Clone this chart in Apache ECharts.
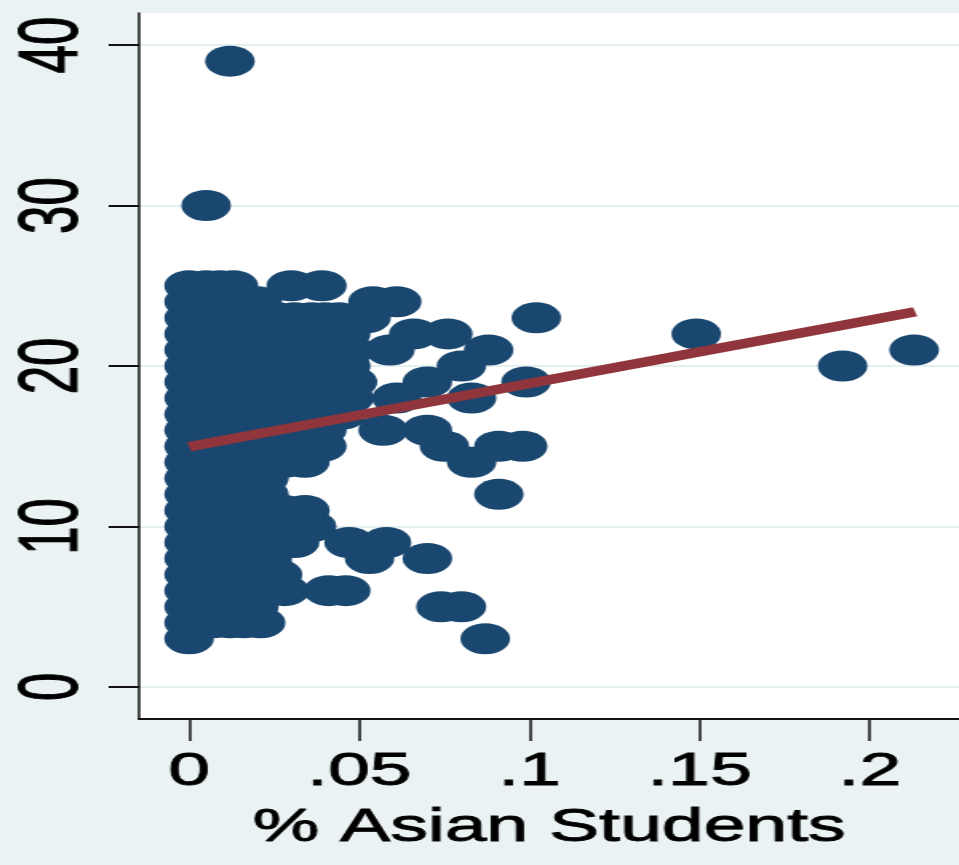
<!DOCTYPE html>
<html>
<head>
<meta charset="utf-8">
<script src="https://cdn.jsdelivr.net/npm/echarts@6/dist/echarts.min.js"></script>
<style>
  html, body { margin: 0; padding: 0; background: #eaf2f3; overflow: hidden; }
  #chart { width: 600px; height: 865px; transform: scaleX(1.59833); transform-origin: 0 0; }
</style>
</head>
<body>
<div id="chart"></div>
<script>
// Outcome levels (y) and the share of Asian students observed at each level (x)
const scoreLevels = [3, 4, 5, 6, 7, 8, 9, 10, 11, 12, 13, 14, 15, 16, 17, 18, 19, 20, 21, 22, 23, 24, 25, 30, 39];
const asianShareAtLevel = [
  [0, 0.087],
  [0, 0.003, 0.007, 0.012, 0.016, 0.021],
  [0, 0.002, 0.006, 0.011, 0.015, 0.019, 0.074, 0.080],
  [0, 0.003, 0.008, 0.013, 0.018, 0.023, 0.028, 0.041, 0.046],
  [0, 0.002, 0.006, 0.011, 0.016, 0.021, 0.026],
  [0, 0.004, 0.009, 0.014, 0.019, 0.023, 0.053, 0.070],
  [0, 0.003, 0.007, 0.012, 0.017, 0.022, 0.027, 0.031, 0.047, 0.058],
  [0, 0.002, 0.006, 0.011, 0.015, 0.020, 0.025, 0.031, 0.036],
  [0, 0.004, 0.009, 0.013, 0.018, 0.023, 0.028, 0.034],
  [0, 0.003, 0.007, 0.012, 0.016, 0.022, 0.091],
  [0, 0.002, 0.006, 0.010, 0.015, 0.019, 0.022],
  [0, 0.004, 0.008, 0.013, 0.018, 0.023, 0.028, 0.034, 0.083],
  [0, 0.002, 0.006, 0.011, 0.016, 0.021, 0.026, 0.031, 0.035, 0.039, 0.075, 0.091, 0.098],
  [0, 0.003, 0.008, 0.012, 0.017, 0.022, 0.027, 0.032, 0.039, 0.057, 0.070],
  [0, 0.002, 0.007, 0.011, 0.016, 0.021, 0.026, 0.031, 0.036, 0.041, 0.045],
  [0, 0.004, 0.009, 0.014, 0.019, 0.024, 0.029, 0.034, 0.040, 0.047, 0.061, 0.083],
  [0, 0.003, 0.008, 0.013, 0.018, 0.023, 0.028, 0.033, 0.038, 0.043, 0.048, 0.070, 0.099],
  [0, 0.002, 0.006, 0.011, 0.016, 0.021, 0.026, 0.031, 0.036, 0.041, 0.046, 0.080, 0.192],
  [0, 0.004, 0.009, 0.014, 0.019, 0.024, 0.029, 0.034, 0.040, 0.047, 0.059, 0.088, 0.213],
  [0, 0.003, 0.007, 0.012, 0.017, 0.022, 0.027, 0.032, 0.037, 0.042, 0.046, 0.066, 0.076, 0.149],
  [0, 0.002, 0.006, 0.011, 0.016, 0.021, 0.026, 0.031, 0.036, 0.040, 0.044, 0.052, 0.102],
  [0, 0.004, 0.008, 0.012, 0.016, 0.020, 0.054, 0.061],
  [0, 0.005, 0.009, 0.013, 0.030, 0.039],
  [0.005],
  [0.012]
];

// Linear fit endpoints
const fitX = [0, 0.2133];
const fitY = [14.97, 23.38];

// Axis ticks
const xTicks = [0, 0.05, 0.1, 0.15, 0.2];
const yTicks = [0, 10, 20, 30, 40];

const points = [];
scoreLevels.forEach((y, i) => {
  asianShareAtLevel[i].forEach(x => points.push([x, y]));
});
const fitLine = fitX.map((x, i) => [x, fitY[i]]);

const fontFamily = '"Liberation Sans", Arial, Helvetica, sans-serif';
const textStyle = { fontFamily, fontSize: 47, color: '#000', textBorderColor: '#000', textBorderWidth: 0.9 };
const chart = echarts.init(document.getElementById('chart'));
chart.setOption({
  backgroundColor: '#eaf2f3',
  animation: false,
  grid: {
    left: 87, right: 0, top: 13, bottom: 146,
    show: true, backgroundColor: '#ffffff', borderWidth: 0
  },
  xAxis: {
    type: 'value',
    min: -0.0147, max: 0.2262,
    name: '% Asian Students',
    nameLocation: 'middle',
    nameGap: 86,
    nameTextStyle: textStyle,
    axisLine: { show: true, onZero: false, lineStyle: { color: '#111', width: 2 } },
    axisTick: { show: true, customValues: xTicks, length: 22, lineStyle: { color: '#111', width: 1.5 } },
    axisLabel: Object.assign({
      customValues: xTicks, margin: 30,
      formatter: v => (v === 0 ? '0' : String(v).replace(/^0/, ''))
    }, textStyle),
    splitLine: { show: false }
  },
  yAxis: {
    type: 'value',
    min: -2, max: 42,
    axisLine: { show: true, onZero: false, lineStyle: { color: '#111', width: 1.5 } },
    axisTick: { show: true, customValues: yTicks, length: 19, lineStyle: { color: '#111', width: 2 } },
    axisLabel: Object.assign({ customValues: yTicks, rotate: 90, margin: 28 }, textStyle, { fontSize: 51 }),
    splitLine: { show: true, lineStyle: { color: '#e4eff0', width: 2 } }
  },
  series: [
    {
      type: 'scatter',
      data: points,
      symbol: 'circle',
      symbolSize: 31,
      itemStyle: { color: '#1a476f', opacity: 1 },
      z: 2
    },
    {
      type: 'line',
      data: fitLine,
      showSymbol: false,
      symbol: 'none',
      lineStyle: { color: '#90353b', width: 9.5, cap: 'butt' },
      z: 3
    }
  ]
});
</script>
</body>
</html>
